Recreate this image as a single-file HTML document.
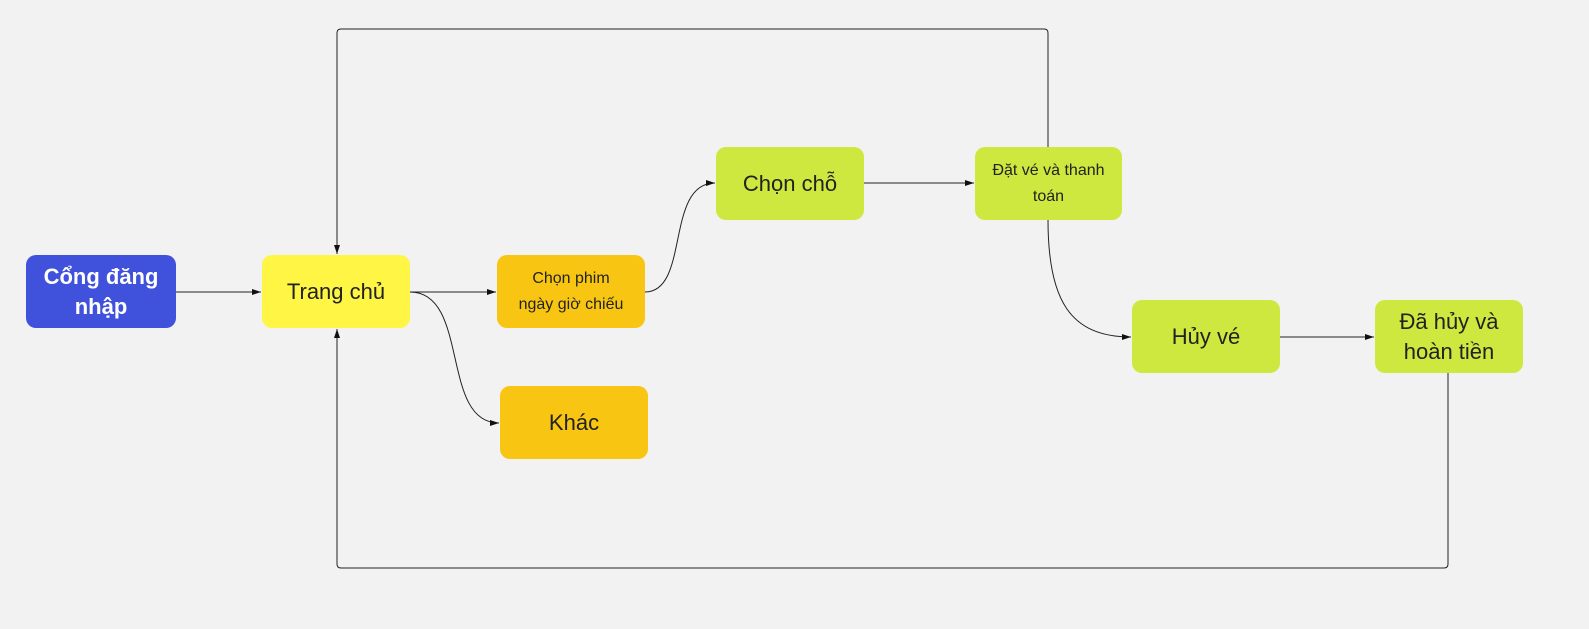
<!DOCTYPE html>
<html><head><meta charset="utf-8"><style>
body{margin:0;width:1589px;height:629px;background:#f2f2f2;overflow:hidden;position:relative;font-family:"Liberation Sans","DejaVu Sans",sans-serif;}
.n{position:absolute;width:148px;height:73px;border-radius:10px;display:flex;align-items:center;justify-content:center;text-align:center;color:#222;font-size:22px;line-height:30px;}
svg{position:absolute;left:0;top:0}
</style></head><body>
<svg width="1589" height="629">
<defs><marker id="a" markerWidth="10" markerHeight="8" refX="9" refY="4" orient="auto" markerUnits="userSpaceOnUse"><path d="M0,1 L9,4 L0,7 Z" fill="#111"/></marker></defs>
<g fill="none" stroke="#222" stroke-width="1">
<path d="M176,292 H261" marker-end="url(#a)"/>
<path d="M410,292 H496" marker-end="url(#a)"/>
<path d="M410,292 C470,292 440,423 499,423" marker-end="url(#a)"/>
<path d="M645,292 C690,292 665,183 715,183" marker-end="url(#a)"/>
<path d="M864,183 H974" marker-end="url(#a)"/>
<path d="M1048,220 C1048,300 1070,337 1131,337" marker-end="url(#a)"/>
<path d="M1280,337 H1374" marker-end="url(#a)"/>
<path d="M1048,147 V33 Q1048,29 1044,29 H341 Q337,29 337,33 V254" marker-end="url(#a)"/>
<path d="M1448,373 V564 Q1448,568 1444,568 H341 Q337,568 337,564 V329" marker-end="url(#a)"/>
</g></svg>
<div class="n" style="left:26px;top:255px;width:150px;background:#4052db;color:#fff;font-weight:bold;">Cổng đăng<br>nhập</div>
<div class="n" style="left:262px;top:255px;background:#fff544;">Trang chủ</div>
<div class="n" style="left:497px;top:255px;background:#f8c612;font-size:16px;line-height:26px;">Chọn phim<br>ngày giờ chiếu</div>
<div class="n" style="left:500px;top:386px;background:#f8c612;">Khác</div>
<div class="n" style="left:716px;top:147px;background:#cee83f;">Chọn chỗ</div>
<div class="n" style="left:975px;top:147px;width:147px;background:#cee83f;font-size:16px;line-height:26px;">Đặt vé và thanh<br>toán</div>
<div class="n" style="left:1132px;top:300px;background:#cee83f;">Hủy vé</div>
<div class="n" style="left:1375px;top:300px;background:#cee83f;">Đã hủy và<br>hoàn tiền</div>
</body></html>
